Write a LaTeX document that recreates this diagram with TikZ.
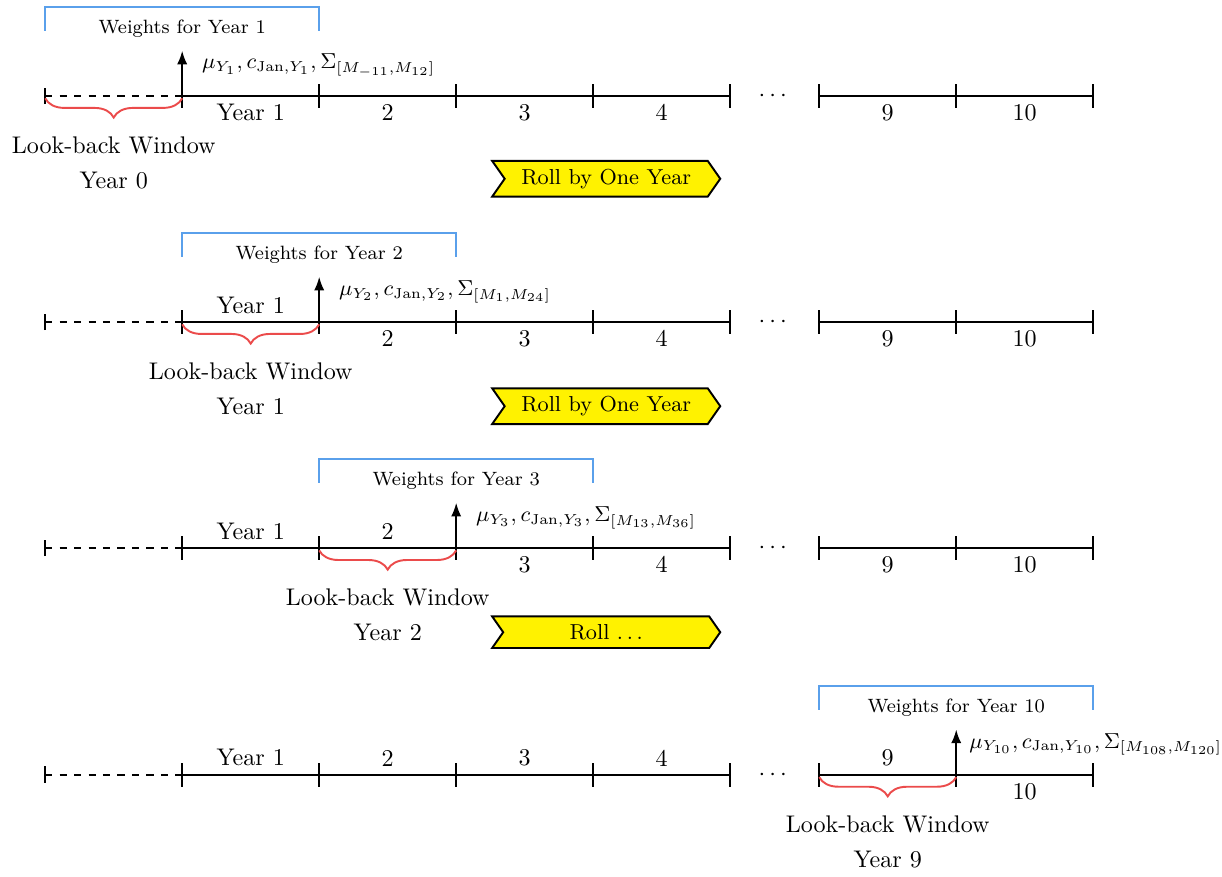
\documentclass[tikz,border=0pt]{standalone}
\usepackage{amsmath,amssymb}
\usepackage{tikz}
\usetikzlibrary{arrows.meta,calc,shapes.symbols,decorations.pathreplacing}
\definecolor{wblue}{RGB}{90,160,235}
\definecolor{lbred}{RGB}{235,75,75}
\tikzset{
  axis/.style={thick},
  wbracket/.style={wblue, thick},
  wlab/.style={font=\footnotesize},
  mathlab/.style={font=\small, anchor=west, inner sep=1pt},
  lbrace/.style={lbred, thick, decorate, decoration={brace, mirror, amplitude=8pt, raise=1pt}},
  lbtext/.style={align=center},
  rollsig/.style={signal, signal from=west, signal to=east, signal pointer angle=110, draw, thick, fill=yellow, minimum width=3.33cm, minimum height=0.44cm, font=\small},
}

\begin{document}
\begin{tikzpicture}
  \useasboundingbox (0,0) rectangle (17.84,12.80);
  % time lines, the arrow sits after segment \k
  \foreach \r/\y/\k in {1/11.40/1, 2/8.10/2, 3/4.80/3, 4/1.49/6}{
    \foreach \i in {0,...,5} \coordinate (t\r-\i) at (0.66+2*\i,\y);
    \foreach \i in {0,1,2} \coordinate (s\r-\i) at (11.96+2*\i,\y);
    \draw[axis, dashed] (t\r-0) -- (t\r-1);
    \draw[axis] (t\r-1) -- (t\r-5);
    \draw[axis] (s\r-0) -- (s\r-2);
    \draw[semithick] ([yshift=-1.2mm]t\r-0) -- ([yshift=1.2mm]t\r-0);
    \foreach \i in {1,...,5} \draw[axis] ([yshift=-1.75mm]t\r-\i) -- ([yshift=1.75mm]t\r-\i);
    \foreach \i in {0,1,2} \draw[axis] ([yshift=-1.75mm]s\r-\i) -- ([yshift=1.75mm]s\r-\i);
    \node (dots\r) at (11.31,\y) {$\cdots$};
    % years before the arrow go above
    \foreach \i/\txt/\x in {1/Year 1/3.66, 2/2/5.66, 3/3/7.66, 4/4/9.66, 5/9/12.96, 6/10/14.96}{
      \ifnum\i<\k
        \node[above] (lab\r-\i) at (\x,\y) {\txt};
      \else
        \node[below] (lab\r-\i) at (\x,\y) {\txt};
      \fi
    }
  }

  % row 1
  \draw[axis, -{Latex[length=2mm]}] (t1-1) -- ++(0,0.66) coordinate (tip1);
  \node[mathlab] (mu1) at ([xshift=2.5mm,yshift=-2.2mm]tip1) {$\mu_{Y_1}, c_{\mathrm{Jan},Y_1}, \Sigma_{[M_{-11},M_{12}]}$};
  \node[wlab] (w1) at ([yshift=9.8mm]t1-1) {Weights for Year 1};
  \draw[wbracket] ([yshift=9.5mm]t1-0) |- ([yshift=13mm]t1-2) -- ([yshift=9.5mm]t1-2);
  \draw[lbrace] (t1-0) -- (t1-1);
  \node[lbtext] (lb1) at ($(t1-0)!0.5!(t1-1)+(0,-0.98)$) {Look-back Window\\[2.5pt]Year 0};
  \node[rollsig] (roll1) at (8.85,10.19) {Roll by One Year};

  % row 2
  \draw[axis, -{Latex[length=2mm]}] (t2-2) -- ++(0,0.66) coordinate (tip2);
  \node[mathlab] (mu2) at ([xshift=2.5mm,yshift=-2.2mm]tip2) {$\mu_{Y_2}, c_{\mathrm{Jan},Y_2}, \Sigma_{[M_{1},M_{24}]}$};
  \node[wlab] (w2) at ([yshift=9.8mm]t2-2) {Weights for Year 2};
  \draw[wbracket] ([yshift=9.5mm]t2-1) |- ([yshift=13mm]t2-3) -- ([yshift=9.5mm]t2-3);
  \draw[lbrace] (t2-1) -- (t2-2);
  \node[lbtext] (lb2) at ($(t2-1)!0.5!(t2-2)+(0,-0.98)$) {Look-back Window\\[2.5pt]Year 1};
  \node[rollsig] (roll2) at (8.85,6.87) {Roll by One Year};

  % row 3
  \draw[axis, -{Latex[length=2mm]}] (t3-3) -- ++(0,0.66) coordinate (tip3);
  \node[mathlab] (mu3) at ([xshift=2.5mm,yshift=-2.2mm]tip3) {$\mu_{Y_3}, c_{\mathrm{Jan},Y_3}, \Sigma_{[M_{13},M_{36}]}$};
  \node[wlab] (w3) at ([yshift=9.8mm]t3-3) {Weights for Year 3};
  \draw[wbracket] ([yshift=9.5mm]t3-2) |- ([yshift=13mm]t3-4) -- ([yshift=9.5mm]t3-4);
  \draw[lbrace] (t3-2) -- (t3-3);
  \node[lbtext] (lb3) at ($(t3-2)!0.5!(t3-3)+(0,-0.98)$) {Look-back Window\\[2.5pt]Year 2};
  \node[rollsig] (roll3) at (8.85,3.57) {Roll $\ldots$};

  % row 4
  \draw[axis, -{Latex[length=2mm]}] (s4-1) -- ++(0,0.66) coordinate (tip4);
  \node[mathlab] (mu4) at ([xshift=1.5mm,yshift=-2.2mm]tip4) {$\mu_{Y_{10}}, c_{\mathrm{Jan},Y_{10}}, \Sigma_{[M_{108},M_{120}]}$};
  \node[wlab] (w4) at ([yshift=9.8mm]s4-1) {Weights for Year 10};
  \draw[wbracket] ([yshift=9.5mm]s4-0) |- ([yshift=13mm]s4-2) -- ([yshift=9.5mm]s4-2);
  \draw[lbrace] (s4-0) -- (s4-1);
  \node[lbtext] (lb4) at ($(s4-0)!0.5!(s4-1)+(0,-0.98)$) {Look-back Window\\[2.5pt]Year 9};
\end{tikzpicture}
\end{document}
